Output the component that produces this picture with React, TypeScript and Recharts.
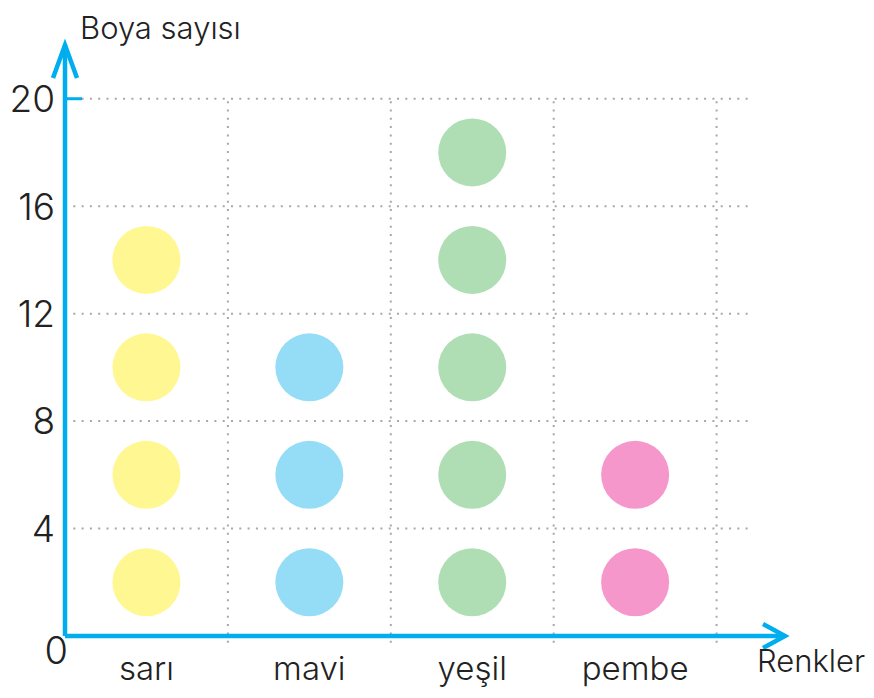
import React from "react";
import { ScatterChart, Scatter, XAxis, YAxis, ReferenceLine } from "recharts";

const categories = ["sarı", "mavi", "yeşil", "pembe"];
const counts = [16, 12, 20, 8];
const colors = ["#FFF791", "#95DDF7", "#B0DEB4", "#F697CC"];
const yTicks = [0, 4, 8, 12, 16, 20];
const perSymbol = 4;
const yTitle = "Boya sayısı";
const xTitle = "Renkler";

const BLUE = "#00AEEF";
const GRID = "#a8a8a8";
const FONT = "Inter, 'Open Sans', sans-serif";
const X_MAX = 4.42;
const Y_MAX = 22;
const GRID_X_END = 4.2;

const seriesData = categories.map((c, i) => {
  const pts: { x: number; y: number }[] = [];
  for (let k = 0; k < counts[i] / perSymbol; k++) {
    pts.push({ x: i + 0.5, y: k * perSymbol + perSymbol / 2 });
  }
  return pts;
});

const Dot = (props: any) => {
  const { cx, cy, fill } = props;
  return <circle cx={cx} cy={cy} r={34} fill={fill} />;
};

const XArrow = (props: any) => {
  const { cx, cy } = props;
  return (
    <polyline
      points={`${cx - 22},${cy - 12} ${cx},${cy} ${cx - 22},${cy + 12}`}
      fill="none"
      stroke={BLUE}
      strokeWidth={4.5}
    />
  );
};

const YArrow = (props: any) => {
  const { cx, cy } = props;
  return (
    <polyline
      points={`${cx - 12},${cy + 33} ${cx},${cy} ${cx + 12},${cy + 33}`}
      fill="none"
      stroke={BLUE}
      strokeWidth={4.5}
    />
  );
};

const YTick = (props: any) => {
  const { x, y, payload } = props;
  const v = payload.value;
  if (v === Y_MAX) {
    return (
      <text x={x + 28} y={y - 6} fontSize={31} fontFamily={FONT} fontWeight={300} fill="#222">
        {yTitle}
      </text>
    );
  }
  if (v === 0) {
    return (
      <text x={x + 16} y={y + 14} dy="0.36em" textAnchor="end" fontSize={38} fontFamily={FONT} fontWeight={300} fill="#222">
        0
      </text>
    );
  }
  return (
    <g>
      {v === 20 && <line x1={x + 13} x2={x + 30} y1={y} y2={y} stroke={BLUE} strokeWidth={3} />}
      <text x={x + 3} y={y} dy="0.36em" textAnchor="end" fontSize={37} fontFamily={FONT} fontWeight={300} fill="#222">
        {v}
      </text>
    </g>
  );
};

const XTick = (props: any) => {
  const { x, y, payload } = props;
  const v = payload.value;
  if (v === X_MAX) {
    return (
      <text x={x - 28} y={y + 36} textAnchor="start" fontSize={31} fontFamily={FONT} fontWeight={300} fill="#222">
        {xTitle}
      </text>
    );
  }
  const idx = Math.floor(v);
  return (
    <text x={x} y={y + 44} textAnchor="middle" fontSize={33} fontFamily={FONT} fontWeight={300} fill="#222">
      {categories[idx]}
    </text>
  );
};

export default function App() {
  const hLines = yTicks.filter((t) => t > 0);
  const vLines = [1, 2, 3, 4];
  return (
    <ScatterChart width={866} height={682} margin={{ top: 37, right: 89, bottom: 24, left: 0 }}>
      <XAxis
        type="number"
        dataKey="x"
        domain={[0, X_MAX]}
        ticks={[0.5, 1.5, 2.5, 3.5, X_MAX]}
        tick={<XTick />}
        height={30}
        tickSize={0}
        tickMargin={0}
        tickLine={false}
        axisLine={{ stroke: BLUE, strokeWidth: 4.5 }}
        interval={0}
      />
      <YAxis
        type="number"
        dataKey="y"
        domain={[0, Y_MAX]}
        ticks={[...yTicks, Y_MAX]}
        width={57}
        tick={<YTick />}
        tickSize={0}
        tickMargin={13}
        tickLine={false}
        axisLine={{ stroke: BLUE, strokeWidth: 4.5 }}
        interval={0}
      />
      {hLines.map((t) => (
        <ReferenceLine
          key={"h" + t}
          segment={[{ x: 0, y: t }, { x: GRID_X_END, y: t }]}
          stroke={GRID}
          strokeWidth={2}
          strokeDasharray="2 6.3"
        />
      ))}
      {vLines.map((t) => (
        <ReferenceLine
          key={"v" + t}
          segment={[{ x: t, y: -0.25 }, { x: t, y: 20 }]}
          stroke={GRID}
          strokeWidth={2}
          strokeDasharray="2 6.3"
          ifOverflow="visible"
        />
      ))}
      {seriesData.map((d, i) => (
        <Scatter key={categories[i]} data={d} fill={colors[i]} shape={<Dot />} isAnimationActive={false} />
      ))}
      <Scatter data={[{ x: X_MAX, y: 0 }]} shape={<XArrow />} isAnimationActive={false} />
      <Scatter data={[{ x: 0, y: Y_MAX }]} shape={<YArrow />} isAnimationActive={false} />
    </ScatterChart>
  );
}
